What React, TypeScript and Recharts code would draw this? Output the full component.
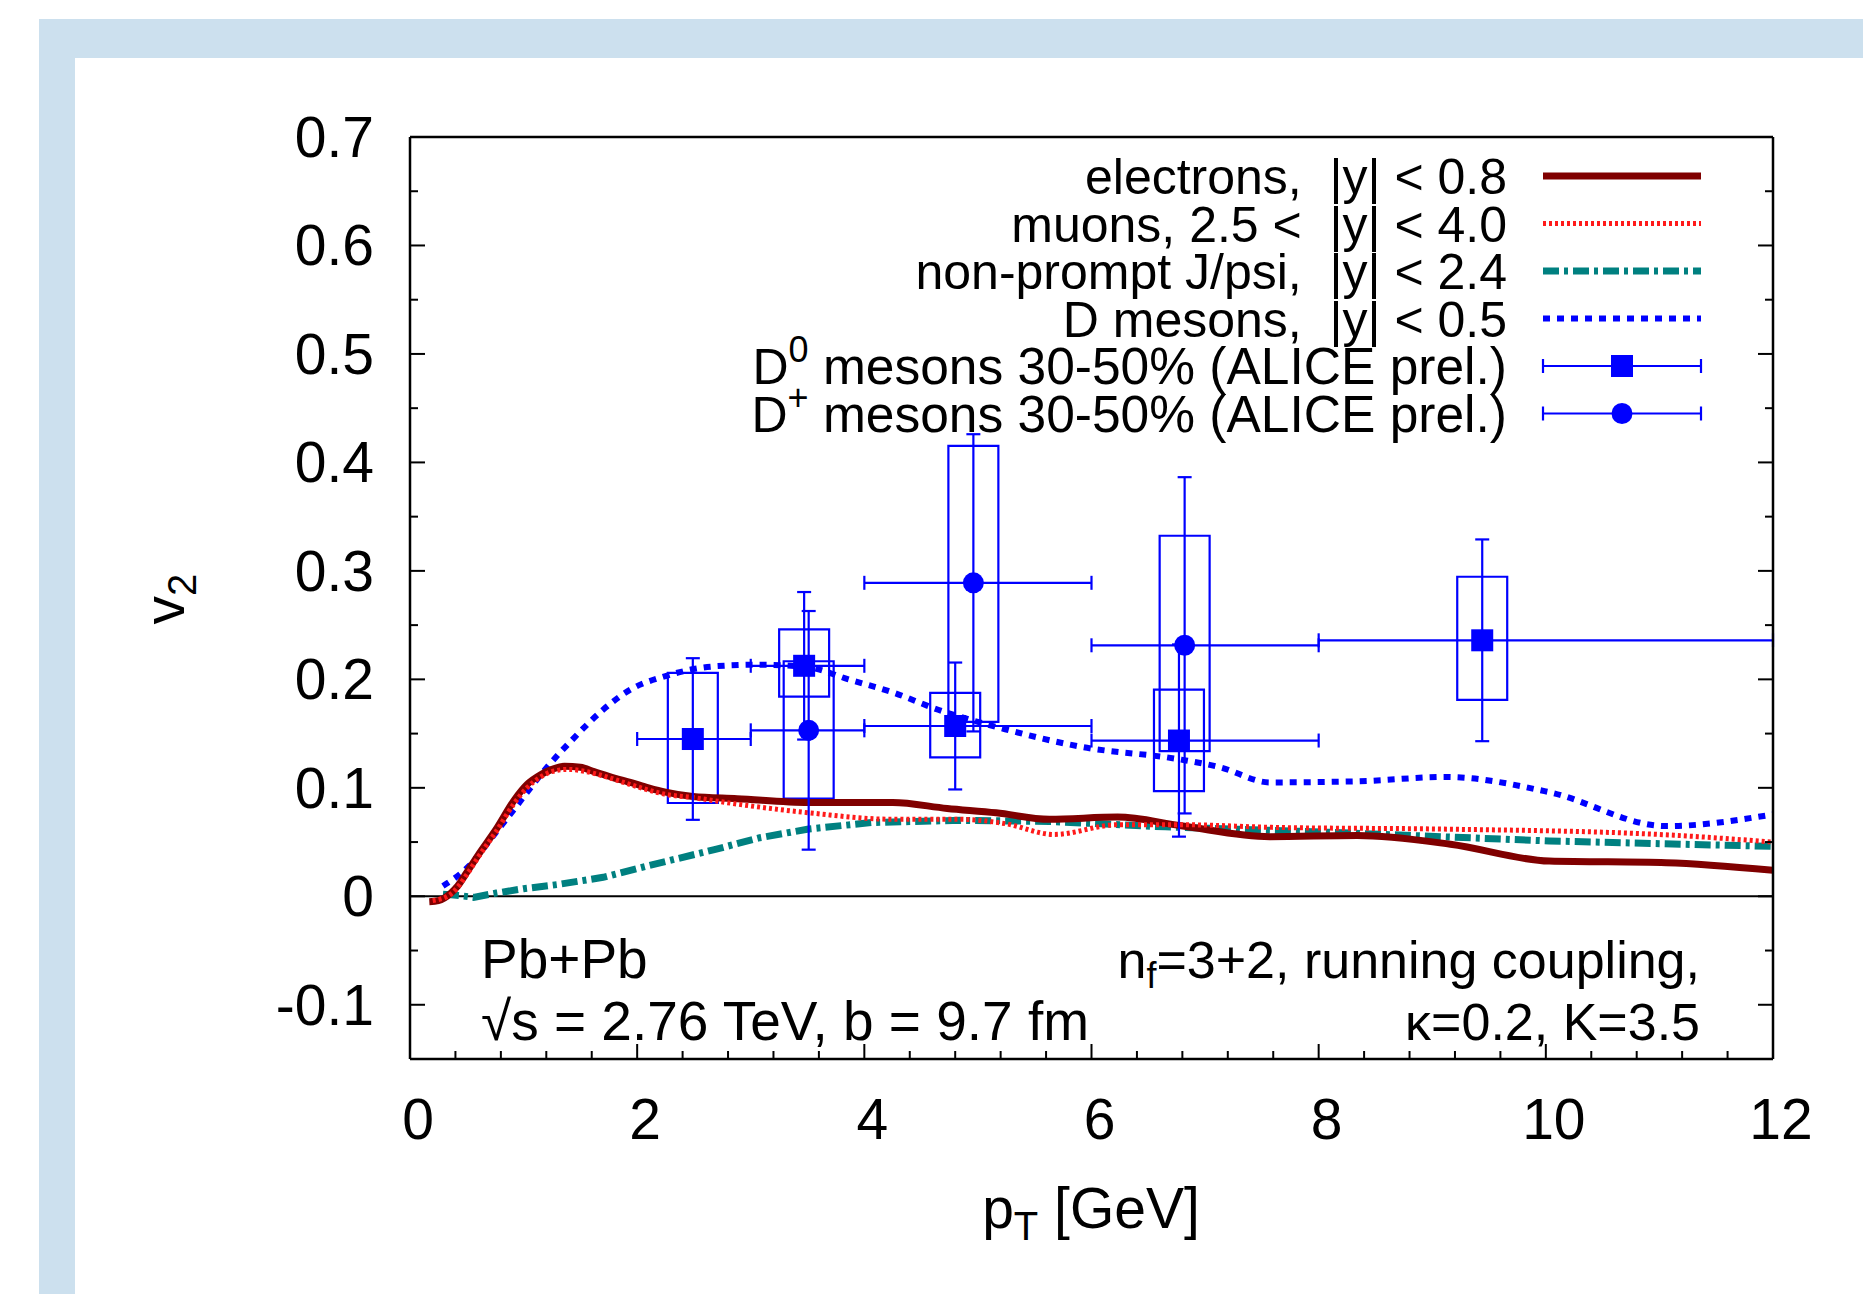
import React from 'react';
import {
  ComposedChart, Line, Scatter, XAxis, YAxis, ErrorBar, ReferenceArea, ReferenceLine,
} from 'recharts';

const FONT = "'Liberation Sans', Arial, Helvetica, sans-serif";

// theory curves: pT [GeV] and v2
const ELECTRONS_PT = [0.17, 0.25, 0.36, 0.42, 0.5, 0.6, 0.76, 0.92, 1.03, 1.15, 1.25, 1.36, 1.5, 1.62, 1.8, 1.94, 2.1, 2.25, 2.49, 2.88, 3.51, 4.25, 4.73, 5.16, 5.63, 6.23, 6.79, 7.57, 8.34, 9.16, 10.03, 11.06, 12.0];
const ELECTRONS_V2 = [-0.005, -0.004, 0.003, 0.0095, 0.022, 0.038, 0.062, 0.089, 0.103, 0.112, 0.117, 0.12, 0.119, 0.115, 0.109, 0.105, 0.1, 0.096, 0.092, 0.09, 0.0865, 0.0865, 0.081, 0.077, 0.071, 0.073, 0.065, 0.055, 0.056, 0.048, 0.0325, 0.031, 0.024];

const MUONS_PT = [0.2, 0.36, 0.5, 0.6, 0.76, 0.92, 1.03, 1.15, 1.25, 1.39, 1.55, 1.7, 1.94, 2.25, 2.49, 2.88, 3.51, 4.25, 4.84, 5.24, 5.67, 6.23, 6.79, 7.61, 9.07, 11.0, 12.0];
const MUONS_V2 = [-0.004, 0.002, 0.02, 0.036, 0.06, 0.086, 0.1, 0.11, 0.115, 0.117, 0.115, 0.111, 0.103, 0.094, 0.091, 0.085, 0.077, 0.071, 0.071, 0.067, 0.057, 0.066, 0.066, 0.0635, 0.062, 0.057, 0.05];

const JPSI_PT = [0.29, 0.45, 0.56, 0.76, 1.0, 1.31, 1.7, 2.09, 2.68, 3.08, 3.51, 4.06, 4.84, 5.63, 6.65, 8.1, 10.03, 12.0];
const JPSI_V2 = [0.002, 0.0005, -0.001, 0.003, 0.007, 0.011, 0.0175, 0.028, 0.043, 0.054, 0.062, 0.068, 0.07, 0.069, 0.064, 0.059, 0.051, 0.046];

const DMES_PT = [0.29, 0.52, 0.72, 0.915, 1.19, 1.43, 1.7, 1.94, 2.25, 2.68, 3.08, 3.51, 3.86, 4.25, 4.65, 5.24, 5.9, 6.79, 7.13, 7.57, 8.34, 9.12, 10.03, 11.06, 12.0];
const DMES_V2 = [0.0095, 0.028, 0.054, 0.08, 0.117, 0.1445, 0.172, 0.1905, 0.203, 0.212, 0.2135, 0.211, 0.2, 0.188, 0.172, 0.154, 0.138, 0.126, 0.119, 0.105, 0.106, 0.11, 0.096, 0.0647, 0.0755];

// ALICE prel. D0, 30-50%
const D0_PT = [2.49, 3.47, 4.8, 6.77, 9.44];
const D0_V2 = [0.145, 0.2125, 0.157, 0.1436, 0.236];
const D0_BIN_LO = [2, 3, 4, 6, 8];
const D0_BIN_HI = [3, 4, 6, 8, 12];
const D0_STAT = [0.0745, 0.068, 0.0585, 0.0886, 0.093];
const D0_SYS_LO = [0.086, 0.184, 0.128, 0.097, 0.181];
const D0_SYS_HI = [0.206, 0.246, 0.1876, 0.1906, 0.2946];

// ALICE prel. D+, 30-50%
const DP_PT = [3.51, 4.96, 6.82];
const DP_V2 = [0.153, 0.289, 0.2314];
const DP_BIN_LO = [3, 4, 6];
const DP_BIN_HI = [4, 6, 8];
const DP_STAT = [0.11, 0.137, 0.155];
const DP_SYS_LO = [0.09, 0.1608, 0.1338];
const DP_SYS_HI = [0.2167, 0.4153, 0.3324];

const SYS_HALF_WIDTH = 0.22; // GeV

const X_TICKS = [0, 0.4, 0.8, 1.2, 1.6, 2, 2.4, 2.8, 3.2, 3.6, 4, 4.4, 4.8, 5.2, 5.6, 6, 6.4, 6.8, 7.2, 7.6, 8, 8.4, 8.8, 9.2, 9.6, 10, 10.4, 10.8, 11.2, 11.6, 12];
const X_MAJOR = [0, 2, 4, 6, 8, 10, 12];
const Y_TICKS = [-0.1, -0.05, 0, 0.05, 0.1, 0.15, 0.2, 0.25, 0.3, 0.35, 0.4, 0.45, 0.5, 0.55, 0.6, 0.65, 0.7];
const Y_MAJOR = [-0.1, 0, 0.1, 0.2, 0.3, 0.4, 0.5, 0.6, 0.7];

const curve = (pt: number[], v2: number[]) => pt.map((x, i) => ({ x, y: v2[i] }));
const points = (pt: number[], v2: number[], lo: number[], hi: number[], stat: number[]) =>
  pt.map((x, i) => ({ x, y: v2[i], ex: [x - lo[i], hi[i] - x], ey: stat[i] }));

const electrons = curve(ELECTRONS_PT, ELECTRONS_V2);
const muons = curve(MUONS_PT, MUONS_V2);
const jpsi = curve(JPSI_PT, JPSI_V2);
const dmesons = curve(DMES_PT, DMES_V2);
const d0 = points(D0_PT, D0_V2, D0_BIN_LO, D0_BIN_HI, D0_STAT);
const dplus = points(DP_PT, DP_V2, DP_BIN_LO, DP_BIN_HI, DP_STAT);

const BLUE = '#0000ff';
const MAJ = 15;
const MIN = 8;

const BottomTick = (p: any) => {
  const v = p.payload.value;
  const major = X_MAJOR.includes(v);
  return (
    <g>
      <line x1={p.x} x2={p.x} y1={p.y} y2={p.y - (major ? MAJ : MIN)} stroke="#000" strokeWidth={2} />
      {major && (
        <text x={p.x + 8} y={p.y + 80} textAnchor="middle" fontSize={57} fontFamily={FONT} fill="#000">{v}</text>
      )}
    </g>
  );
};
const TopTick = (p: any) => {
  const major = X_MAJOR.includes(p.payload.value);
  return <line x1={p.x} x2={p.x} y1={p.y} y2={p.y + (major ? MAJ : MIN)} stroke="#000" strokeWidth={2} />;
};
const LeftTick = (p: any) => {
  const v = p.payload.value;
  const major = Y_MAJOR.includes(v);
  return (
    <g>
      <line x1={p.x} x2={p.x + (major ? MAJ : MIN)} y1={p.y} y2={p.y} stroke="#000" strokeWidth={2} />
      {major && (
        <text x={p.x - 36} y={p.y + 20} textAnchor="end" fontSize={57} fontFamily={FONT} fill="#000">{String(v)}</text>
      )}
    </g>
  );
};
const RightTick = (p: any) => {
  const major = Y_MAJOR.includes(p.payload.value);
  return <line x1={p.x} x2={p.x - (major ? MAJ : MIN)} y1={p.y} y2={p.y} stroke="#000" strokeWidth={2} />;
};

const Square = (p: any) => <rect x={p.cx - 11} y={p.cy - 11} width={22} height={22} fill={BLUE} />;
const Dot = (p: any) => <circle cx={p.cx} cy={p.cy} r={10.5} fill={BLUE} />;

const LEGEND = [
  { kind: 'line', stroke: '#800000', width: 7, dash: undefined },
  { kind: 'line', stroke: '#ff1a1a', width: 5, dash: '3 3' },
  { kind: 'line', stroke: '#008080', width: 7, dash: '16 5 4 5' },
  { kind: 'line', stroke: BLUE, width: 6, dash: '7 7' },
  { kind: 'square' },
  { kind: 'circle' },
];

export default function App() {
  const axisLine = { stroke: '#000', strokeWidth: 2.5 };
  return (
    <div style={{ position: 'absolute', left: 0, top: 0, width: 1863, height: 1294, background: '#fff', overflow: 'hidden' }}>
      <div style={{ position: 'absolute', left: 39, top: 19, width: 1824, height: 1275, background: '#cce0ee' }} />
      <div style={{ position: 'absolute', left: 75, top: 58, width: 1788, height: 1236, background: '#fff' }} />
      <div style={{ position: 'absolute', left: 75, top: 58 }}>
        <ComposedChart width={1788} height={1236} margin={{ top: 78, right: 89, bottom: 0, left: 0 }}>
          <XAxis xAxisId="b" dataKey="x" type="number" domain={[0, 12]} ticks={X_TICKS} interval={0}
            orientation="bottom" height={235} tickSize={0} tickMargin={0} tickLine={false}
            axisLine={axisLine} tick={<BottomTick />} allowDataOverflow />
          <XAxis xAxisId="t" type="number" domain={[0, 12]} ticks={X_TICKS} interval={0}
            orientation="top" height={1} tickSize={0} tickMargin={0} tickLine={false}
            axisLine={axisLine} tick={<TopTick />} allowDataOverflow />
          <YAxis yAxisId="l" type="number" domain={[-0.15, 0.7]} ticks={Y_TICKS} interval={0}
            orientation="left" width={335} tickSize={0} tickMargin={0} tickLine={false}
            axisLine={axisLine} tick={<LeftTick />} allowDataOverflow />
          <YAxis yAxisId="r" type="number" domain={[-0.15, 0.7]} ticks={Y_TICKS} interval={0}
            orientation="right" width={1} tickSize={0} tickMargin={0} tickLine={false}
            axisLine={axisLine} tick={<RightTick />} allowDataOverflow />

          <ReferenceLine xAxisId="b" yAxisId="l" y={0} stroke="#000" strokeWidth={2} />

          {D0_PT.map((x, i) => (
            <ReferenceArea key={`d0s${i}`} xAxisId="b" yAxisId="l" x1={x - SYS_HALF_WIDTH} x2={x + SYS_HALF_WIDTH}
              y1={D0_SYS_LO[i]} y2={D0_SYS_HI[i]} fill="none" fillOpacity={0} stroke={BLUE} strokeWidth={2.2} strokeOpacity={1} />
          ))}
          {DP_PT.map((x, i) => (
            <ReferenceArea key={`dps${i}`} xAxisId="b" yAxisId="l" x1={x - SYS_HALF_WIDTH} x2={x + SYS_HALF_WIDTH}
              y1={DP_SYS_LO[i]} y2={DP_SYS_HI[i]} fill="none" fillOpacity={0} stroke={BLUE} strokeWidth={2.2} strokeOpacity={1} />
          ))}

          <Line xAxisId="b" yAxisId="l" data={jpsi} dataKey="y" type="linear" stroke="#008080" strokeWidth={7}
            strokeDasharray="16 5 4 5" dot={false} activeDot={false} isAnimationActive={false} />
          <Line xAxisId="b" yAxisId="l" data={dmesons} dataKey="y" type="monotone" stroke={BLUE} strokeWidth={6}
            strokeDasharray="7 7" dot={false} activeDot={false} isAnimationActive={false} />
          <Line xAxisId="b" yAxisId="l" data={electrons} dataKey="y" type="monotone" stroke="#800000" strokeWidth={7}
            dot={false} activeDot={false} isAnimationActive={false} />
          <Line xAxisId="b" yAxisId="l" data={muons} dataKey="y" type="monotone" stroke="#ff1a1a" strokeWidth={5}
            strokeDasharray="3 3" dot={false} activeDot={false} isAnimationActive={false} />

          <Scatter xAxisId="b" yAxisId="l" data={d0} dataKey="y" shape={<Square />} isAnimationActive={false}>
            <ErrorBar dataKey="ex" direction="x" width={7} stroke={BLUE} strokeWidth={2.2} />
            <ErrorBar dataKey="ey" direction="y" width={7} stroke={BLUE} strokeWidth={2.2} />
          </Scatter>
          <Scatter xAxisId="b" yAxisId="l" data={dplus} dataKey="y" shape={<Dot />} isAnimationActive={false}>
            <ErrorBar dataKey="ex" direction="x" width={7} stroke={BLUE} strokeWidth={2.2} />
            <ErrorBar dataKey="ey" direction="y" width={7} stroke={BLUE} strokeWidth={2.2} />
          </Scatter>
        </ComposedChart>
      </div>

      <svg width={1863} height={1294} style={{ position: 'absolute', left: 0, top: 0, pointerEvents: 'none' }}
        fontFamily={FONT} fill="#000">
        {/* legend */}
        {[
          <>electrons,  |y| &lt; 0.8</>,
          <>muons, 2.5 &lt;  |y| &lt; 4.0</>,
          <>non-prompt J/psi,  |y| &lt; 2.4</>,
          <>D mesons,  |y| &lt; 0.5</>,
          <>D<tspan dy={-22} fontSize={36}>0</tspan><tspan dy={22} fontSize={51.5}> mesons 30-50% (ALICE prel.)</tspan></>,
          <>D<tspan dy={-22} fontSize={36}>+</tspan><tspan dy={22} fontSize={51.5}> mesons 30-50% (ALICE prel.)</tspan></>,
        ].map((label, i) => {
          const y = 176 + i * 47.5;
          const it: any = LEGEND[i];
          return (
            <g key={i}>
              <text x={1507} y={y + 18} textAnchor="end" fontSize={50} style={{ whiteSpace: 'pre' }}>{label}</text>
              {it.kind === 'line' ? (
                <line x1={1543} x2={1701} y1={y} y2={y} stroke={it.stroke} strokeWidth={it.width} strokeDasharray={it.dash} />
              ) : (
                <g stroke={BLUE} strokeWidth={2.2}>
                  <line x1={1543} x2={1701} y1={y} y2={y} />
                  <line x1={1543} x2={1543} y1={y - 7} y2={y + 7} />
                  <line x1={1701} x2={1701} y1={y - 7} y2={y + 7} />
                  {it.kind === 'square'
                    ? <rect x={1611} y={y - 11} width={22} height={22} fill={BLUE} stroke="none" />
                    : <circle cx={1622} cy={y} r={10.5} fill={BLUE} stroke="none" />}
                </g>
              )}
            </g>
          );
        })}

        {/* annotations */}
        <text x={481} y={978} fontSize={55}>Pb+Pb</text>
        <text x={481} y={1040} fontSize={55}>√s = 2.76 TeV, b = 9.7 fm</text>
        <text x={1700} y={978} fontSize={52} textAnchor="end">n<tspan dy={10} fontSize={36}>f</tspan><tspan dy={-10}>=3+2, running coupling,</tspan></text>
        <text x={1700} y={1040} fontSize={52} textAnchor="end">κ=0.2, K=3.5</text>

        {/* axis titles */}
        <text x={1091} y={1228} fontSize={57} textAnchor="middle">p<tspan dy={12} fontSize={40}>T</tspan><tspan dy={-12}> [GeV]</tspan></text>
        <text transform="translate(184,599) rotate(-90)" fontSize={57} textAnchor="middle">v<tspan dy={12} fontSize={40}>2</tspan></text>
      </svg>
    </div>
  );
}
